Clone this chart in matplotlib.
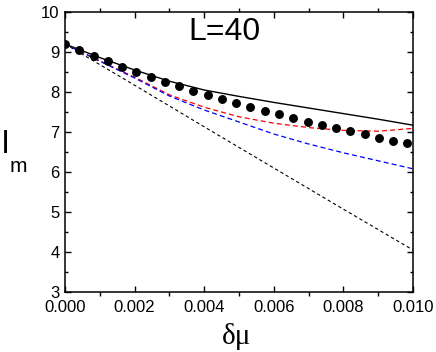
import matplotlib
matplotlib.use("Agg")
import matplotlib.pyplot as plt
from matplotlib.ticker import MultipleLocator, FormatStrFormatter

# ---- data ----
dots_x = [0.0, 0.00041, 0.00082, 0.00123, 0.00164, 0.00205, 0.00246, 0.00287,
          0.00328, 0.00369, 0.0041, 0.00451, 0.00492, 0.00533, 0.00574, 0.00615,
          0.00656, 0.00697, 0.00738, 0.00779, 0.0082, 0.00861, 0.00902, 0.00943, 0.00984]
dots_y = [9.20, 9.05, 8.91, 8.77, 8.63, 8.50, 8.38, 8.26, 8.145, 8.03, 7.93, 7.82,
          7.72, 7.62, 7.53, 7.44, 7.345, 7.26, 7.18, 7.09, 7.02, 6.94, 6.86, 6.78, 6.72]

curve_x = [0.0, 0.001, 0.002, 0.003, 0.004, 0.005, 0.006, 0.007, 0.008, 0.009, 0.010]
solid_y = [9.20, 8.86, 8.55, 8.27, 8.05, 7.89, 7.74, 7.60, 7.46, 7.32, 7.17]
red_y   = [9.20, 8.78, 8.37, 7.93, 7.62, 7.38, 7.22, 7.11, 7.04, 7.02, 7.09]
blue_y  = [9.20, 8.77, 8.35, 7.90, 7.55, 7.25, 6.95, 6.70, 6.48, 6.28, 6.08]
black_dash_y = [9.20, 8.685, 8.17, 7.65, 7.13, 6.615, 6.10, 5.585, 5.07, 4.56, 4.05]

xticks = [0.000, 0.002, 0.004, 0.006, 0.008, 0.010]
yticks = [3, 4, 5, 6, 7, 8, 9, 10]

plt.rcParams['font.family'] = ['Liberation Sans', 'DejaVu Sans']

fig = plt.figure(figsize=(4.36, 3.52), dpi=100)
ax = fig.add_axes([65/436, 1-292/352, (413-65)/436, (292-12)/352])

ax.plot(curve_x, solid_y, color='black', lw=1.0)
ax.plot(curve_x, red_y, color='#ff0000', lw=0.9, ls=(0, (4, 2.5)))
ax.plot(curve_x, blue_y, color='#0000ff', lw=0.9, ls=(0, (4, 2.5)))
ax.plot(curve_x, black_dash_y, color='black', lw=0.8, ls=(0, (3, 2.5)))
ax.plot(dots_x, dots_y, 'o', color='black', ms=5.4, mec='black')

ax.set_xlim(0, 0.010)
ax.set_ylim(3, 10)
ax.set_xticks(xticks)
ax.set_yticks(yticks)
ax.xaxis.set_major_formatter(FormatStrFormatter('%.3f'))
ax.xaxis.set_minor_locator(MultipleLocator(0.001))
ax.yaxis.set_minor_locator(MultipleLocator(0.5))

for s in ax.spines.values():
    s.set_linewidth(1.1)

ax.tick_params(axis='both', which='major', direction='in', length=4, width=1.0,
               labelsize=12, top=True, right=True, pad=4)
ax.tick_params(axis='y', which='minor', direction='in', length=2.5, width=1.0,
               left=True, right=True)
ax.tick_params(axis='x', which='minor', direction='out', length=3, width=1.0,
               bottom=True, top=True)
ax.tick_params(axis='x', which='major', pad=6)

fig.text(188/436, 1-39.7/352, 'L=40', fontsize=23, ha='left', va='baseline')
fig.text(2/436, 1-153.3/352, 'l', fontsize=23, ha='left', va='baseline')
fig.text(10/436, 1-171.7/352, 'm', fontsize=15, ha='left', va='baseline')
fig.text(237/436, 1-344.3/352, 'δμ', fontsize=21, ha='center', va='baseline',
         family=['Liberation Serif', 'DejaVu Serif'])

fig.savefig('out.png', dpi=100)
